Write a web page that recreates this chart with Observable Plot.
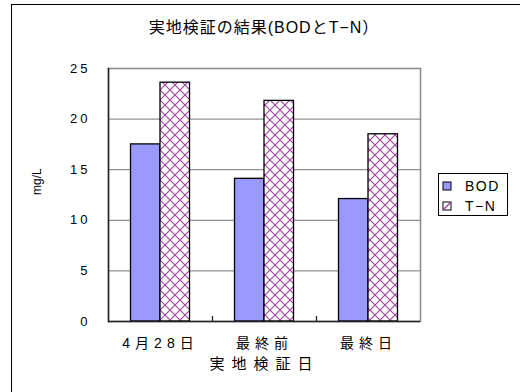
<!DOCTYPE html>
<html>
<head>
<meta charset="utf-8">
<script src="https://cdn.jsdelivr.net/npm/d3@7"></script>
<script src="https://cdn.jsdelivr.net/npm/@observablehq/plot@0.6"></script>
<style>
  html, body { margin: 0; padding: 0; background: #fff; overflow: hidden; }
  #chart { position: relative; width: 520px; height: 392px; overflow: hidden;
           font-family: "Liberation Sans", "Noto Sans CJK JP", sans-serif; }
  #border { position: absolute; left: 11px; top: 4px; width: 540px; height: 420px;
            border: 1px solid #000; box-sizing: border-box; }
  #title { position: absolute; left: 0; top: 14px; width: 528px; text-align: center;
           font-size: 16px; letter-spacing: 1px; color: #000; }
  #plot { position: absolute; left: 0; top: 0; }
  #legend { position: absolute; left: 438px; top: 173px; width: 70px; height: 43px;
            border: 1px solid #000; box-sizing: border-box; background: #fff;
            font-size: 14px; letter-spacing: 1.5px; }
  .item { position: absolute; left: 3px; height: 16px; display: flex; align-items: center; }
  .item svg { margin-right: 13px; }
</style>
</head>
<body>
<div id="chart">
  <div id="border"></div>
  <div id="plot"></div>
  <div id="title">実地検証の結果(BODとT−N）</div>
  <div id="legend"></div>
</div>
<script>
// Test days (x categories)
const categories = ["4月28日", "最終前", "最終日"];
// Series names as shown in the legend
const seriesNames = ["BOD", "T−N"];
// Measured concentrations, mg/L
const bodValues = [17.5, 14.1, 12.1];
const tnValues = [23.6, 21.8, 18.5];
// Y axis ticks and gridlines
const yTicks = [0, 5, 10, 15, 20, 25];
const gridValues = [5, 10, 15, 20];
const xTitle = "実地検証日";
const yTitle = "mg/L";

const bodColor = "#9999ff";
const hatchColor = "#a040a0";

const bodRows = categories.map((c, i) => ({category: c, series: seriesNames[0], value: bodValues[i]}));
const tnRows = categories.map((c, i) => ({category: c, series: seriesNames[1], value: tnValues[i]}));

const W = 520, H = 392;
const margin = {left: 108, right: 100, top: 68, bottom: 71};
const step = (W - margin.left - margin.right) / categories.length;
// each bar takes this share of a category band; bars sit side by side in the middle
const barW = step * 0.2837;
const outer = step / 2 - barW;

const chart = Plot.plot({
  width: W,
  height: H,
  marginLeft: margin.left,
  marginRight: margin.right,
  marginTop: margin.top,
  marginBottom: margin.bottom,
  style: {fontFamily: '"Liberation Sans", "Noto Sans CJK JP", sans-serif', fontSize: "13px", color: "#000", background: "transparent"},
  x: {domain: categories, padding: 0, label: null, tickSize: 0, tickPadding: 17},
  y: {domain: [0, 25], ticks: yTicks, label: null, tickSize: 0, tickPadding: 18},
  marks: [
    Plot.ruleY(gridValues, {stroke: "#777", strokeWidth: 1}),
    Plot.frame({stroke: "#888", strokeWidth: 1.5}),
    Plot.barY(bodRows, {x: "category", y: "value", fill: bodColor, stroke: "#000", strokeWidth: 1.3,
      insetLeft: outer, insetRight: step - outer - barW}),
    Plot.barY(tnRows, {x: "category", y: "value", fill: "url(#tn-hatch)", stroke: "#000", strokeWidth: 1.3,
      insetLeft: outer + barW, insetRight: outer}),
    // category separators on the baseline
    Plot.ruleX(categories.slice(1), {x: d => d, dx: -step / 2, y1: 0, y2: 0.5, stroke: "#222", strokeWidth: 1.3}),
    Plot.ruleY([0], {stroke: "#222", strokeWidth: 1.5}),
    Plot.frame({anchor: "left", stroke: "#222", strokeWidth: 1.5}),
    Plot.text([xTitle], {text: d => d, frameAnchor: "bottom", dy: 47, fontSize: 15, className: "x-title"}),
    Plot.text([yTitle], {text: d => d, frameAnchor: "left", dx: -71, rotate: -90, fontSize: 12})
  ]
});

// cross-hatch pattern for the T−N bars
const svg = d3.select(chart);
const pat = svg.insert("defs", ":first-child")
  .append("pattern")
  .attr("id", "tn-hatch")
  .attr("patternUnits", "userSpaceOnUse")
  .attr("width", 10).attr("height", 10);
pat.append("rect").attr("width", 10).attr("height", 10).attr("fill", "#fff");
pat.append("path").attr("d", "M0,0L10,10M10,0L0,10M-1,9L1,11M9,-1L11,1")
  .attr("stroke", hatchColor).attr("stroke-width", 1.1).attr("fill", "none");

// letter spacing for tick labels and the x title
svg.selectAll("g[aria-label='y-axis tick label'] text").style("letter-spacing", "3px");
svg.selectAll("g[aria-label='x-axis tick label'] text").style("font-size", "14px").style("letter-spacing", "5px");
svg.selectAll(".x-title text").style("letter-spacing", "7px");

document.getElementById("plot").appendChild(chart);

// legend
const legend = d3.select("#legend");
const swatches = [
  {name: seriesNames[0], fill: bodColor, top: 4},
  {name: seriesNames[1], fill: "hatch", top: 24}
];
swatches.forEach(s => {
  const item = legend.append("div").attr("class", "item").style("top", s.top + "px");
  const sw = item.append("svg").attr("width", 10).attr("height", 10);
  if (s.fill === "hatch") {
    sw.append("rect").attr("x", 1).attr("y", 1).attr("width", 8).attr("height", 8)
      .attr("fill", "#fff").attr("stroke", "#000");
    sw.append("path").attr("d", "M2,8L8,2").attr("stroke", hatchColor).attr("stroke-width", 1.5);
  } else {
    sw.append("rect").attr("x", 1).attr("y", 1).attr("width", 8).attr("height", 8)
      .attr("fill", s.fill).attr("stroke", "#000");
  }
  item.append("span").text(s.name);
});
</script>
</body>
</html>
